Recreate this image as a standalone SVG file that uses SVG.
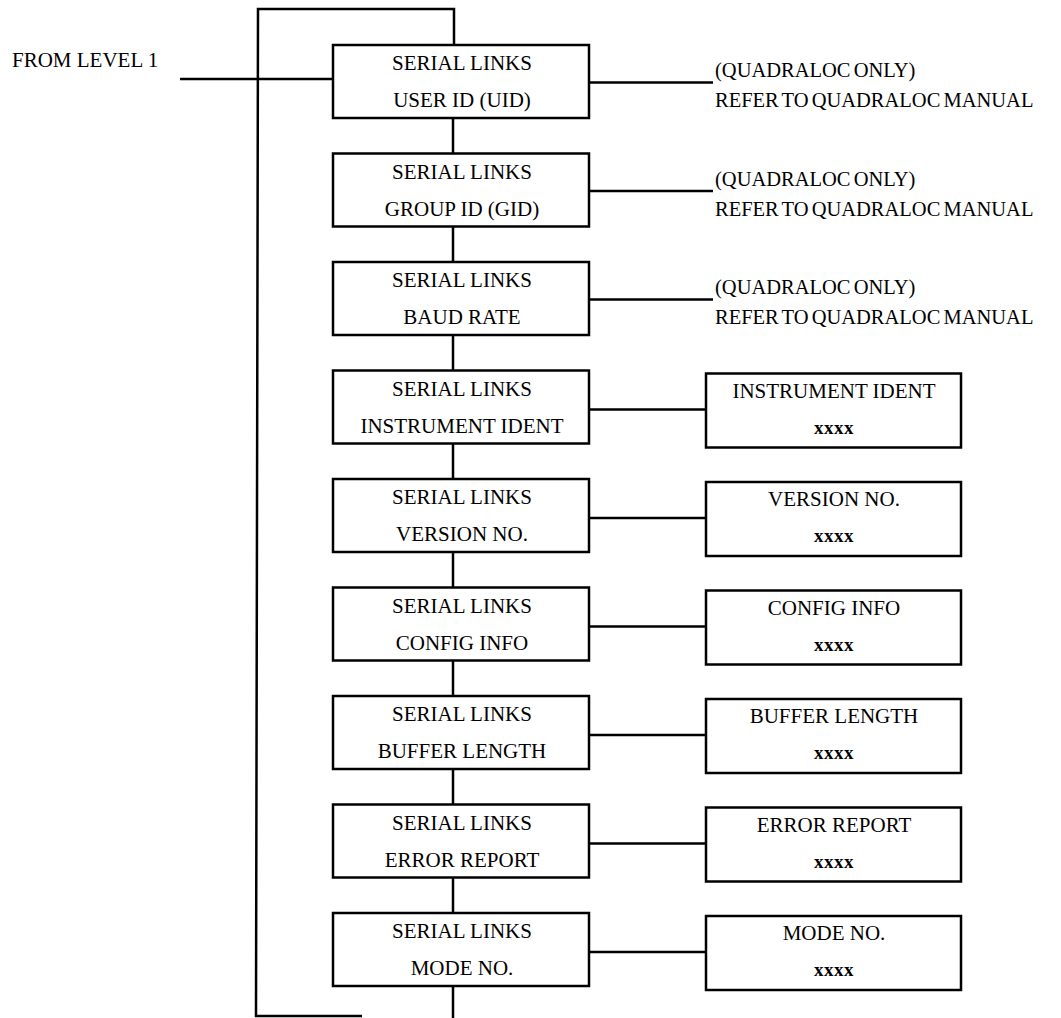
<svg xmlns="http://www.w3.org/2000/svg" width="1061" height="1018" viewBox="0 0 1061 1018">
<style>
.box{fill:#fff;stroke:#000;stroke-width:2.5}
.ln{fill:none;stroke:#000;stroke-width:2.5}
text{font-family:"Liberation Serif","Times New Roman",serif;font-size:21px;fill:#000}
.c{text-anchor:middle}
.n{font-size:20.5px;word-spacing:-2px}
.x{font-weight:bold;font-size:19px;letter-spacing:0.5px}
</style>
<rect width="1061" height="1018" fill="#fff"/>
<g id="connectors">
<polyline class="ln" points="362,1016 256,1016 258,9 454,9 454,45"/>
<line class="ln" x1="180" y1="79" x2="333" y2="79"/>
<line class="ln" x1="453" y1="118" x2="453" y2="153.5"/>
<line class="ln" x1="453" y1="226.5" x2="453" y2="262"/>
<line class="ln" x1="453" y1="335" x2="453" y2="370.5"/>
<line class="ln" x1="453" y1="443.5" x2="453" y2="479"/>
<line class="ln" x1="453" y1="552" x2="453" y2="587.5"/>
<line class="ln" x1="453" y1="660.5" x2="453" y2="696"/>
<line class="ln" x1="453" y1="769" x2="453" y2="804.5"/>
<line class="ln" x1="453" y1="877.5" x2="453" y2="913"/>
<line class="ln" x1="453" y1="986" x2="453" y2="1018"/>
<line class="ln" x1="589" y1="82.5" x2="713" y2="82.5"/>
<line class="ln" x1="589" y1="191" x2="713" y2="191"/>
<line class="ln" x1="589" y1="299.5" x2="713" y2="299.5"/>
<line class="ln" x1="589" y1="409.5" x2="706" y2="409.5"/>
<line class="ln" x1="589" y1="518" x2="706" y2="518"/>
<line class="ln" x1="589" y1="626.5" x2="706" y2="626.5"/>
<line class="ln" x1="589" y1="735" x2="706" y2="735"/>
<line class="ln" x1="589" y1="843.5" x2="706" y2="843.5"/>
<line class="ln" x1="589" y1="952" x2="706" y2="952"/>
</g>
<g id="from-level-1"><text x="12" y="67">FROM LEVEL 1</text></g>
<g id="uid"><rect class="box" x="333" y="45" width="256" height="73"/><text class="c" x="462" y="70">SERIAL LINKS</text><text class="c" x="462" y="107">USER ID (UID)</text></g>
<g id="gid"><rect class="box" x="333" y="153.5" width="256" height="73"/><text class="c" x="462" y="178.5">SERIAL LINKS</text><text class="c" x="462" y="215.5">GROUP ID (GID)</text></g>
<g id="baud"><rect class="box" x="333" y="262" width="256" height="73"/><text class="c" x="462" y="287">SERIAL LINKS</text><text class="c" x="462" y="324">BAUD RATE</text></g>
<g id="ident"><rect class="box" x="333" y="370.5" width="256" height="73"/><text class="c" x="462" y="395.5">SERIAL LINKS</text><text class="c" x="462" y="432.5">INSTRUMENT IDENT</text></g>
<g id="version"><rect class="box" x="333" y="479" width="256" height="73"/><text class="c" x="462" y="504">SERIAL LINKS</text><text class="c" x="462" y="541">VERSION NO.</text></g>
<g id="config"><rect class="box" x="333" y="587.5" width="256" height="73"/><text class="c" x="462" y="612.5">SERIAL LINKS</text><text class="c" x="462" y="649.5">CONFIG INFO</text></g>
<g id="buffer"><rect class="box" x="333" y="696" width="256" height="73"/><text class="c" x="462" y="721">SERIAL LINKS</text><text class="c" x="462" y="758">BUFFER LENGTH</text></g>
<g id="error"><rect class="box" x="333" y="804.5" width="256" height="73"/><text class="c" x="462" y="829.5">SERIAL LINKS</text><text class="c" x="462" y="866.5">ERROR REPORT</text></g>
<g id="mode"><rect class="box" x="333" y="913" width="256" height="73"/><text class="c" x="462" y="938">SERIAL LINKS</text><text class="c" x="462" y="975">MODE NO.</text></g>
<g id="note-uid"><text class="n" x="715" y="77">(QUADRALOC ONLY)</text><text class="n" x="715" y="107">REFER TO QUADRALOC MANUAL</text></g>
<g id="note-gid"><text class="n" x="715" y="185.5">(QUADRALOC ONLY)</text><text class="n" x="715" y="215.5">REFER TO QUADRALOC MANUAL</text></g>
<g id="note-baud"><text class="n" x="715" y="294">(QUADRALOC ONLY)</text><text class="n" x="715" y="324">REFER TO QUADRALOC MANUAL</text></g>
<g id="ident-val"><rect class="box" x="706" y="373.5" width="255" height="74"/><text class="c" x="834" y="397.5">INSTRUMENT IDENT</text><text class="c x" x="834" y="433.5">xxxx</text></g>
<g id="version-val"><rect class="box" x="706" y="482" width="255" height="74"/><text class="c" x="834" y="506">VERSION NO.</text><text class="c x" x="834" y="542">xxxx</text></g>
<g id="config-val"><rect class="box" x="706" y="590.5" width="255" height="74"/><text class="c" x="834" y="614.5">CONFIG INFO</text><text class="c x" x="834" y="650.5">xxxx</text></g>
<g id="buffer-val"><rect class="box" x="706" y="699" width="255" height="74"/><text class="c" x="834" y="723">BUFFER LENGTH</text><text class="c x" x="834" y="759">xxxx</text></g>
<g id="error-val"><rect class="box" x="706" y="807.5" width="255" height="74"/><text class="c" x="834" y="831.5">ERROR REPORT</text><text class="c x" x="834" y="867.5">xxxx</text></g>
<g id="mode-val"><rect class="box" x="706" y="916" width="255" height="74"/><text class="c" x="834" y="940">MODE NO.</text><text class="c x" x="834" y="976">xxxx</text></g>
</svg>
